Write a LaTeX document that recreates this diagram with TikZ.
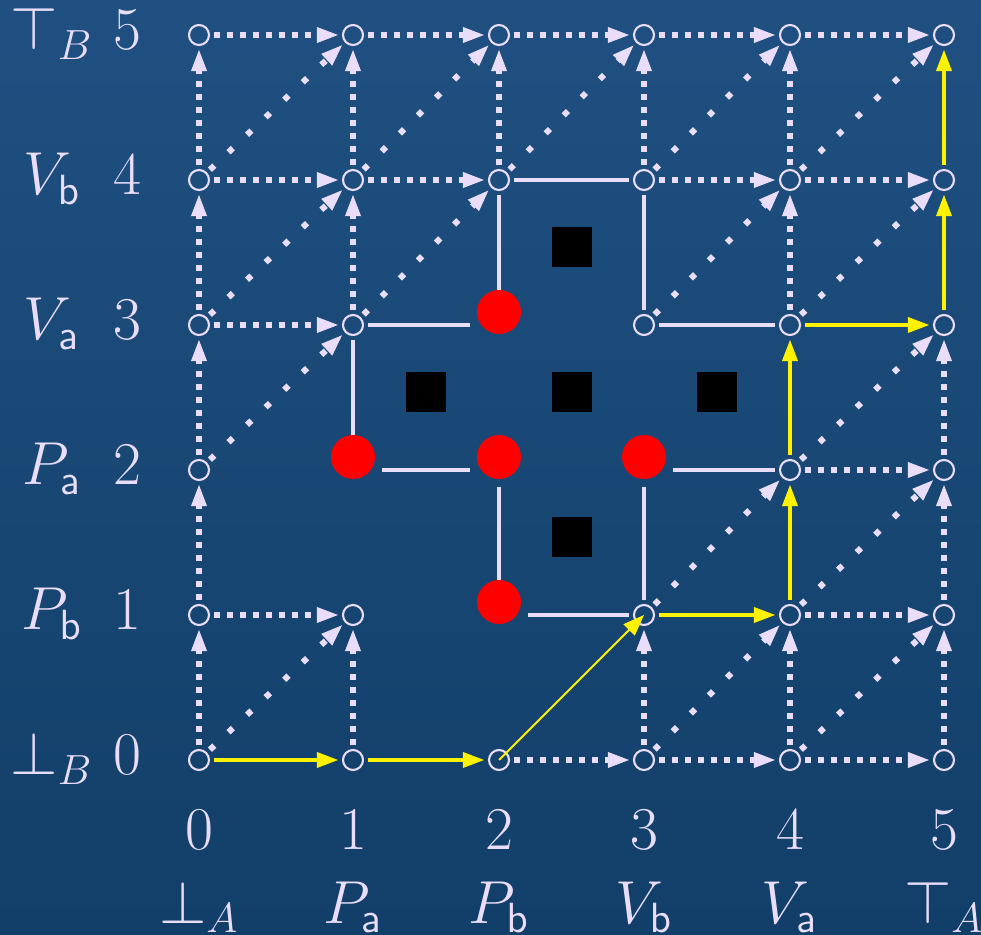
\documentclass[tikz,border=0pt]{standalone}
\usepackage{amsmath}
\usepackage{amssymb}
\usetikzlibrary{arrows.meta}

\definecolor{lav}{RGB}{233,221,250}
\definecolor{bgtop}{RGB}{31,80,129}
\definecolor{bgbot}{RGB}{18,63,105}

\begin{document}
\begin{tikzpicture}[
    vertex/.style={circle, draw=lav, line width=0.6pt, minimum size=0.2cm, inner sep=0pt, outer sep=0.05cm},
    hole/.style={rectangle, minimum width=0.56cm, minimum height=0.32cm, inner sep=0pt},
    ball/.style={circle, fill=red, minimum size=0.44cm, inner sep=0pt, yshift=0.13cm},
    block/.style={rectangle, fill=black, minimum size=0.4cm, inner sep=0pt},
    tipped/.style={-{Triangle[length=6pt, width=4.5pt, line width=0.3pt]}},
    flow/.style={tipped, draw=lav, line width=0.06cm, dash pattern=on 0.06cm off 0.07cm},
    skew/.style={flow, dash pattern=on 0.06cm off 0.195cm},
    link/.style={draw=lav, line width=0.9pt},
    route/.style={tipped, draw=yellow, line width=1.05pt},
    lbl/.style={text=lav, font=\fontsize{17.3}{20}\selectfont, anchor=base, inner sep=0pt}
]
    \useasboundingbox (0,0) rectangle (9.81,9.35);
    \shade[top color=bgtop, bottom color=bgbot] (0,0) rectangle (9.81,9.35);

    % grid of states
    \foreach \i/\x in {0/1.99,1/3.53,2/4.99,3/6.44,4/7.90,5/9.44}
        \coordinate (c\i) at (\x,0);
    \foreach \j in {0,...,5}
        \coordinate (r\j) at (0,{1.75+1.45*\j});
    \foreach \j/\cols in {5/{0,1,2,3,4,5}, 4/{0,1,2,3,4,5}, 3/{0,1,3,4,5}, 2/{0,4,5}, 1/{0,1,3,4,5}, 0/{0,1,2,3,4,5}}
        \foreach \i in \cols
            \node[vertex] (v-\i-\j) at (c\i |- r\j) {};
    \foreach \i/\j in {2/3,1/2,2/2,3/2,2/1}
        \node[hole] (v-\i-\j) at (c\i |- r\j) {};

    % dotted steps
    \foreach \i/\j in {0/5,1/5,2/5,3/5,4/5,0/4,1/4,3/4,4/4,0/3,4/2,0/1,4/1,2/0,3/0,4/0} {
        \pgfmathtruncatemacro\k{\i+1}
        \draw[flow] (v-\i-\j) -- (v-\k-\j);
    }
    \foreach \i/\j in {0/4,1/4,2/4,3/4,4/4,0/3,1/3,4/3,0/2,5/2,0/1,5/1,0/0,1/0,3/0,4/0,5/0} {
        \pgfmathtruncatemacro\l{\j+1}
        \draw[flow] (v-\i-\j) -- (v-\i-\l);
    }
    \foreach \i/\j in {0/4,1/4,2/4,3/4,4/4,0/3,1/3,3/3,4/3,0/2,4/2,3/1,4/1,0/0,3/0,4/0} {
        \pgfmathtruncatemacro\k{\i+1}
        \pgfmathtruncatemacro\l{\j+1}
        \draw[skew] (v-\i-\j) -- (v-\k-\l);
    }

    % border of the hole
    \foreach \a/\b in {2-4/3-4,2-4/2-3,3-4/3-3,3-3/4-3,1-3/2-3,1-3/1-2,1-2/2-2,2-2/2-1,2-1/3-1,3-1/3-2,3-2/4-2}
        \draw[link] (v-\a) -- (v-\b);

    % the yellow path
    \foreach \a/\b in {0-0/1-0,1-0/2-0,3-1/4-1,4-1/4-2,4-2/4-3,4-3/5-3,5-3/5-4,5-4/5-5}
        \draw[route] (v-\a) -- (v-\b);
    \draw[route, line width=0.6pt] (v-2-0.center) -- (v-3-1.center);

    % red states and black cells
    \foreach \i/\j in {2/3,1/2,2/2,3/2,2/1}
        \node[ball] (b-\i-\j) at (v-\i-\j) {};
    \node[block] (q-top) at (5.715,6.875) {};
    \node[block] (q-left) at (4.26,5.425) {};
    \node[block] (q-mid) at (5.715,5.425) {};
    \node[block] (q-right) at (7.17,5.425) {};
    \node[block] (q-bot) at (5.715,3.975) {};

    % axis labels
    \foreach \j/\name in {5/\top_B, 4/V_{\mathsf{b}}, 3/V_{\mathsf{a}}, 2/P_{\mathsf{a}}, 1/P_{\mathsf{b}}, 0/\bot_B} {
        \node[lbl] (rnum-\j) at (1.27,{1.60+1.45*\j}) {$\j$};
        \node[lbl] (rname-\j) at (0.52,{1.60+1.45*\j}) {$\name$};
    }
    \foreach \i/\x/\name in {0/1.99/\bot_A, 1/3.53/P_{\mathsf{a}}, 2/4.99/P_{\mathsf{b}}, 3/6.44/V_{\mathsf{b}}, 4/7.90/V_{\mathsf{a}}, 5/9.44/\top_A} {
        \node[lbl] (cnum-\i) at (\x,0.85) {$\i$};
        \node[lbl] (cname-\i) at (\x,0.12) {$\name$};
    }
\end{tikzpicture}
\end{document}
